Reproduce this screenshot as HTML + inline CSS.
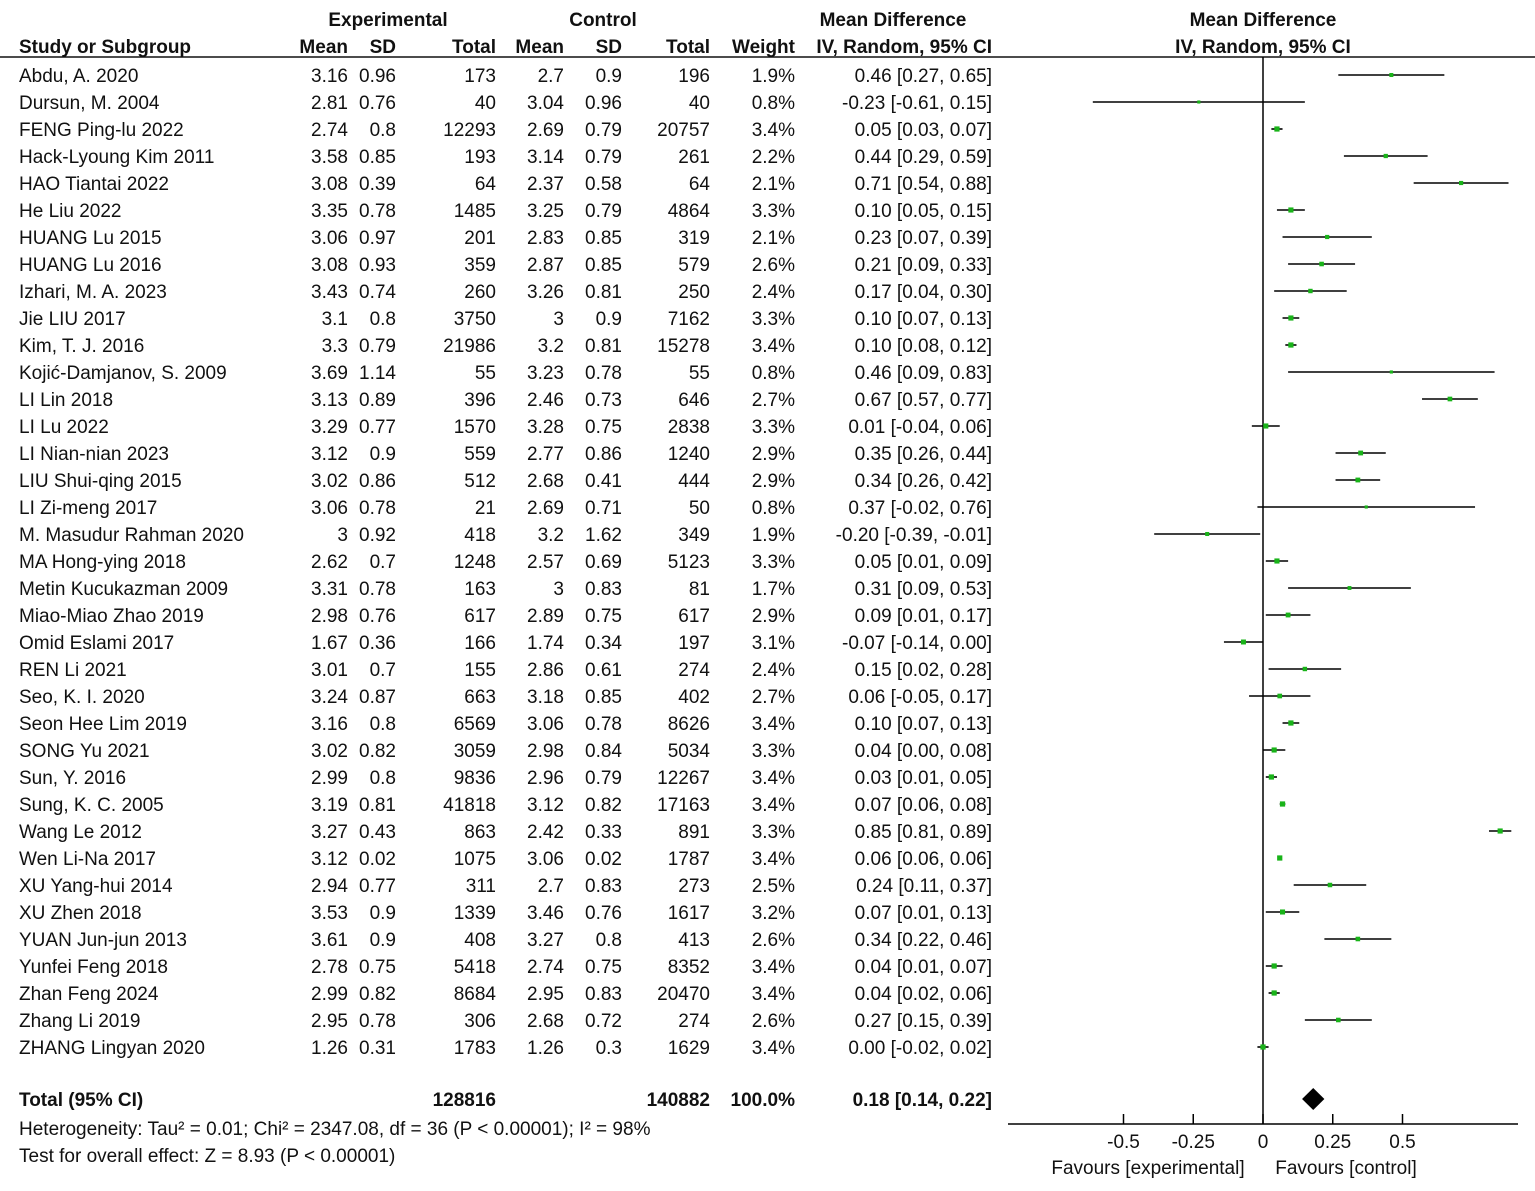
<!DOCTYPE html>
<html><head><meta charset="utf-8">
<style>
html,body{margin:0;padding:0;background:#fff;}
svg{display:block;font-family:"Liberation Sans",Arial,sans-serif;}
text{font-size:19px;fill:#111;}
.b{font-weight:bold;}
</style></head>
<body>
<svg id="plot" width="1535" height="1191" viewBox="0 0 1535 1191"></svg>
<script>
const studies=["Abdu, A. 2020","Dursun, M. 2004","FENG Ping-lu 2022","Hack-Lyoung Kim 2011","HAO Tiantai 2022","He Liu 2022","HUANG Lu 2015","HUANG Lu 2016","Izhari, M. A. 2023","Jie LIU 2017","Kim, T. J. 2016","Kojić-Damjanov, S. 2009","LI Lin 2018","LI Lu 2022","LI Nian-nian 2023","LIU Shui-qing 2015","LI Zi-meng 2017","M. Masudur Rahman 2020","MA Hong-ying 2018","Metin Kucukazman 2009","Miao-Miao Zhao 2019","Omid Eslami 2017","REN Li 2021","Seo, K. I. 2020","Seon Hee Lim 2019","SONG Yu 2021","Sun, Y. 2016","Sung, K. C. 2005","Wang Le 2012","Wen Li-Na 2017","XU Yang-hui 2014","XU Zhen 2018","YUAN Jun-jun 2013","Yunfei Feng 2018","Zhan Feng 2024","Zhang Li 2019","ZHANG Lingyan 2020"];
const expMean=["3.16","2.81","2.74","3.58","3.08","3.35","3.06","3.08","3.43","3.1","3.3","3.69","3.13","3.29","3.12","3.02","3.06","3","2.62","3.31","2.98","1.67","3.01","3.24","3.16","3.02","2.99","3.19","3.27","3.12","2.94","3.53","3.61","2.78","2.99","2.95","1.26"];
const expSD=["0.96","0.76","0.8","0.85","0.39","0.78","0.97","0.93","0.74","0.8","0.79","1.14","0.89","0.77","0.9","0.86","0.78","0.92","0.7","0.78","0.76","0.36","0.7","0.87","0.8","0.82","0.8","0.81","0.43","0.02","0.77","0.9","0.9","0.75","0.82","0.78","0.31"];
const expTotal=["173","40","12293","193","64","1485","201","359","260","3750","21986","55","396","1570","559","512","21","418","1248","163","617","166","155","663","6569","3059","9836","41818","863","1075","311","1339","408","5418","8684","306","1783"];
const ctlMean=["2.7","3.04","2.69","3.14","2.37","3.25","2.83","2.87","3.26","3","3.2","3.23","2.46","3.28","2.77","2.68","2.69","3.2","2.57","3","2.89","1.74","2.86","3.18","3.06","2.98","2.96","3.12","2.42","3.06","2.7","3.46","3.27","2.74","2.95","2.68","1.26"];
const ctlSD=["0.9","0.96","0.79","0.79","0.58","0.79","0.85","0.85","0.81","0.9","0.81","0.78","0.73","0.75","0.86","0.41","0.71","1.62","0.69","0.83","0.75","0.34","0.61","0.85","0.78","0.84","0.79","0.82","0.33","0.02","0.83","0.76","0.8","0.75","0.83","0.72","0.3"];
const ctlTotal=["196","40","20757","261","64","4864","319","579","250","7162","15278","55","646","2838","1240","444","50","349","5123","81","617","197","274","402","8626","5034","12267","17163","891","1787","273","1617","413","8352","20470","274","1629"];
const weights=[1.9,0.8,3.4,2.2,2.1,3.3,2.1,2.6,2.4,3.3,3.4,0.8,2.7,3.3,2.9,2.9,0.8,1.9,3.3,1.7,2.9,3.1,2.4,2.7,3.4,3.3,3.4,3.4,3.3,3.4,2.5,3.2,2.6,3.4,3.4,2.6,3.4];
const md=[0.46,-0.23,0.05,0.44,0.71,0.10,0.23,0.21,0.17,0.10,0.10,0.46,0.67,0.01,0.35,0.34,0.37,-0.20,0.05,0.31,0.09,-0.07,0.15,0.06,0.10,0.04,0.03,0.07,0.85,0.06,0.24,0.07,0.34,0.04,0.04,0.27,0.00];
const lo=[0.27,-0.61,0.03,0.29,0.54,0.05,0.07,0.09,0.04,0.07,0.08,0.09,0.57,-0.04,0.26,0.26,-0.02,-0.39,0.01,0.09,0.01,-0.14,0.02,-0.05,0.07,0.00,0.01,0.06,0.81,0.06,0.11,0.01,0.22,0.01,0.02,0.15,-0.02];
const hi=[0.65,0.15,0.07,0.59,0.88,0.15,0.39,0.33,0.30,0.13,0.12,0.83,0.77,0.06,0.44,0.42,0.76,-0.01,0.09,0.53,0.17,0.00,0.28,0.17,0.13,0.08,0.05,0.08,0.89,0.06,0.37,0.13,0.46,0.07,0.06,0.39,0.02];
const total=[0.18,0.14,0.22];
const ticks=[-0.5,-0.25,0,0.25,0.5];
const tickLabels=["-0.5","-0.25","0","0.25","0.5"];

const svg=document.getElementById('plot');
const NS="http://www.w3.org/2000/svg";
const X0=1263,SC=279;
function xs(v){return X0+v*SC;}
function rowY(i){return 75+27*i;}
function mk(tag,attrs,name){const e=document.createElementNS(NS,tag);for(const k in attrs)e.setAttribute(k,attrs[k]);


svg.appendChild(e);return e;}
function txt(s,x,y,anchor,name,cls){const t=mk('text',{x:x,y:y,'text-anchor':anchor||'start'},name);if(cls)t.setAttribute('class',cls);t.textContent=s;return t;}
function fmt(v){return v.toFixed(2);}

txt("Experimental",388,26,'middle','experimental-header','b');
txt("Control",603,26,'middle','control-header','b');
txt("Mean Difference",893,26,'middle','md-header','b');
txt("Mean Difference",1263,26,'middle','plot-md-header','b');
txt("Study or Subgroup",19,53,'start','study-col-header','b');
const hdr=[["Mean",348],["SD",396],["Total",496],["Mean",564],["SD",622],["Total",710],["Weight",795],["IV, Random, 95% CI",992]];
hdr.forEach(h=>txt(h[0],h[1],53,'end','col-header','b'));
txt("IV, Random, 95% CI",1263,53,'middle','plot-ci-header','b');
mk('line',{x1:0,y1:57,x2:1535,y2:57,stroke:'#111','stroke-width':1.5},'header-rule');

mk('line',{x1:X0,y1:57,x2:X0,y2:1124,stroke:'#000','stroke-width':1.5},'null-line');
mk('line',{x1:1008,y1:1124,x2:1518,y2:1124,stroke:'#000','stroke-width':1.5},'x-axis');
ticks.forEach((t,i)=>{
  mk('line',{x1:xs(t),y1:1114,x2:xs(t),y2:1124,stroke:'#000','stroke-width':1.5},'x-tick');
  txt(tickLabels[i],xs(t),1148,'middle','x-tick-label');
});
txt("Favours [experimental]",1148,1174,'middle','favours-experimental');
txt("Favours [control]",1346,1174,'middle','favours-control');

studies.forEach((s,i)=>{
  const y=rowY(i)+7;
  txt(s,19,y,'start','study-name');
  txt(expMean[i],348,y,'end','exp-mean');
  txt(expSD[i],396,y,'end','exp-sd');
  txt(expTotal[i],496,y,'end','exp-total');
  txt(ctlMean[i],564,y,'end','ctl-mean');
  txt(ctlSD[i],622,y,'end','ctl-sd');
  txt(ctlTotal[i],710,y,'end','ctl-total');
  txt(weights[i].toFixed(1)+"%",795,y,'end','weight');
  txt(fmt(md[i])+" ["+fmt(lo[i])+", "+fmt(hi[i])+"]",992,y,'end','md-ci');
  const cy=rowY(i);
  mk('line',{x1:xs(lo[i]),y1:cy,x2:xs(hi[i]),y2:cy,stroke:'#000','stroke-width':1.6},'ci-line');
  const sz=2.5+weights[i]*0.8;
  mk('rect',{x:xs(md[i])-sz/2,y:cy-sz/2,width:sz,height:sz,fill:'#19b319'},'effect-square');
});

const ty=1099;
txt("Total (95% CI)",19,ty+7,'start','total-label','b');
txt("128816",496,ty+7,'end','total-exp','b');
txt("140882",710,ty+7,'end','total-ctl','b');
txt("100.0%",795,ty+7,'end','total-weight','b');
txt(fmt(total[0])+" ["+fmt(total[1])+", "+fmt(total[2])+"]",992,ty+7,'end','total-ci','b');
mk('polygon',{points:[xs(total[1])+","+ty, xs(total[0])+","+(ty-11), xs(total[2])+","+ty, xs(total[0])+","+(ty+11)].join(' '),fill:'#000'},'total-diamond');
txt("Heterogeneity: Tau² = 0.01; Chi² = 2347.08, df = 36 (P < 0.00001); I² = 98%",19,1135,'start','heterogeneity');
txt("Test for overall effect: Z = 8.93 (P < 0.00001)",19,1162,'start','overall-effect');
</script>
</body></html>
